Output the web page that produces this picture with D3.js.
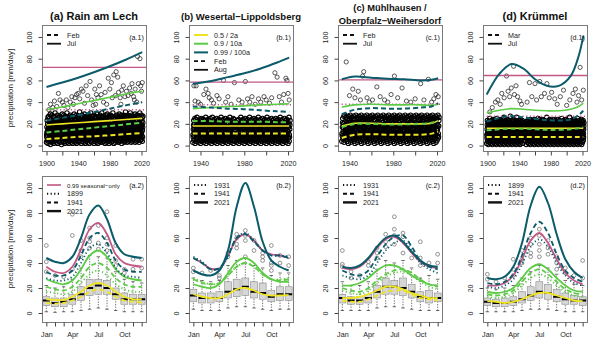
<!DOCTYPE html>
<html>
<head>
<meta charset="utf-8">
<script src="https://cdn.jsdelivr.net/npm/d3@7"></script>
<style>
body { margin: 0; background: #fff; }
svg { font-family: "Liberation Sans", Arial, Helvetica, sans-serif; }
</style>
</head>
<body>
<svg width="600" height="340"></svg>
<script>
// ---------- axis labels ----------
var monthLabels = ["Jan", "Apr", "Jul", "Oct"];
var months = ["Jan","Feb","Mar","Apr","May","Jun","Jul","Aug","Sep","Oct","Nov","Dec"];
var yTicks = [0, 20, 40, 60, 80, 100];
var yearTicksLong = [1900, 1920, 1940, 1960, 1980, 2000, 2020];
var yearTicksShort = [1940, 1960, 1980, 2000, 2020];
var yearLabels = [1900, 1940, 1980, 2020];

// ---------- top row: scatter of monthly maxima (one group of 6 per year, base-36 mm/day) ----------
var cloudA = "3a8hcn 5d9kfq 2bgeir 4c7jmp 6ahdlt 1e9gko 7bcfis 3d8ljn 5agemr 2c9hkq " +
  "4bdfju 6a8iln 3e7gkp 5ch9ms 2dbfjo 7a9hlq 4ecgkr 3b8ijn 6dafmp 1c9hkt " +
  "5bgdlo 3a8jns 7dcfkq 2e9hir 4bagmp 6c8jlu 3dbfko 5a9hnq 2ecgjr 4b8ims " +
  "6adflp 3c9hko 5e8gnr 2bdjlq 7a9fmt 4cegkp 3b8hio 5dagns 2c9jlq 6ebfkr " +
  "4a8hmp 3dcgjv 5b9ilo 7e8fkq 2cahns 4bdgjr 6a9flp 3ecimt 5b8hko 2dagnq " +
  "4c9jlr 6bdfmp 3a8hks 5ecgio 2b9jnq 7dafku 4c8hlp 3bgemr 5a9jko 6edfns " +
  "2c8hlq 4bagjr 7d9imp 3e8fkt 5cbhno 2adgjq 6b9flr 4c8ims 3eahkp 5d9gnu " +
  "7b8jlq 3cdfmr 4a9hko 6ecgip 2b8jns 5dafkq 3c9hlt 6bdgmo 4e8ijr 2a9fkp " +
  "5cbhns 7d8gjq 3a9ilr 4ecfmu 6b8hkp 2dagjo 5c9flq 3e8imr 7bahks 4d9gnp " +
  "6c8jlq 3bdhmt 5a9fkr 4ecgio 7b8jns 2dahkq 6c9flr 5e8ims 3bdgkp 4a9hnv " +
  "6c8jlr 5dbfmq 3e9hks 7a8gio 4cdjnr 6b9fku 5e8hlq 3cagms 7d9ijp 4b8hnr " +
  "6eafkq 5c9glt 3b8imr 7dcfjo 4a9hns 6e8gkq 5bdjlr 3c9fmu 7a8hkp 5dbgis " +
  "6c9jnq 4e8hlr";
var cloudB = "3a8fjn 5c9gkp 2bdhio 4a7flq 6c9gjm 3b8ekn 5d9hlo 2a7gjp 4cafkm 6b8hio " +
  "3d9fjn 5a7gkq 2c8hlm 4b9ejo 6d7fkn 3a8gip 5c9hjm 2b7fkq 4d8gln 6a9ejo " +
  "3c7hkm 5b8fjp 2d9gin 4a7hko 6c8fjm 3b9glq 5d7ejn 2a8hko 4c9fjm 6b7gip " +
  "3d8hkn 5a9fjo 2c7gln 4b8eiq 6d9hjm 3a7fkn 5c8gjp 2b9hlo 4d7fkm ------ " +
  "3a8gjn 5c9hko 2b7fim 4d8gjq 6a9ekn 3c7hlo 5b8fjm 2d9gkp 4a7hin 6c8fjo " +
  "3b9glm 5d7ejq 2a8hkn 4c9fjo 6b7gim 3d8hkp 5a9fjn 2c7glo 4b8ejm 6d9hkq " +
  "3a7fjn 5c8gko 2b9him 4d7fjp 6a8gkn 3c9elo 5b7hjm 2d8fkq 4a9gin 6c7hjo " +
  "3b8fkm 5d9gjp 2a7hln 4c8ejo 6b9fkm 3d7gip 5a8hjn 2c9fko 4b7glm 6d8ejq " +
  "3a9hkn 5c7fjo 2b8gim 4d9hjp 6a7fkn 3c8glo 5b9ejm 2d7hkq 4a8fjn";
var cloudC = "4b9hlp 6d8gkr 3a9ims 5cbfjq 7e8hlo 4bagkr 2d9jnp 6c8fms 3eahkq 5b9gio " +
  "7d8jlr 4cbhnp 2a9fks 6e8gjq 3bdilo 5c9hmr 7a8gkp 4dbfjs 2e9hnq 6c8ilo " +
  "3bagkr 5d9hmp 7e8fjs 4cbgnq 2a9ilo 6d8hkr 3ecfmp 5b9jls 7a8gkq 4dbhio " +
  "2c9fnr 6e8gjp 3bahms 5d9ilq 7c8fko 4ebgjr 2a9hnp 6d8fls 3cbgiq 5e9hko " +
  "7b8jmr 4dafkp 2c9gns 6e8hlq 3bdijo 5a9fmr 7c8gkp 4ebhjs 2d9inq 6a8flo " +
  "3cbgkr 5e9hmp 7b8jls 4dafnq 2c9gio 6e8hkr 3bdfmp 5a9ijs 7c8hlq 4ebgko " +
  "2d9fnr 6a8hjp 3cbgms 5e9ilq 7b8fko 4dahjr 2c9gnp 6e8ils 3bdhkq 5a9fmo " +
  "7c8gjr 4ebhnp 2d9iks 6a8flq 3cbhmo 5e9gjr 7b8ikp 4dafns 2c9hlq 6e8gjo " +
  "3bdimr 5a9fkp 7c8hns 4ebgjq 2d9ilo 6a8hmr 3cbfkp 5e9gjs 7b8inq";
var cloudD = "2a7fjn 4b8dhl 1c6gim 3a9ekp 5b7fhl 2d8gjn 4a6ehm 1c9fko 3b7dgl 5a8hjn " +
  "2c6fim 4b9egl 1a7dhp 3c8fjm 5b6gkn 2a9ehl 4d7fio 1b8gjm 3a6dhn 5c9fkl " +
  "2b7egm 4a8hjq 1d6fil 3b9gkn 5a7dhm 2c8fjo 4b6egl 1a9hkn 3d7fim 5b8gjr " +
  "2a6dhl 4c9fkn 1b7gim 3a8ejo 5d6fhl 2b9gkm 4a7dhn 1c8fjq 3b6gil 5a9ekm " +
  "2d7fhn 4b8gjl 1a6dio 3c9fkm 5b7ehn 2a8gjl ------ ------ ------ 4c7fhm " +
  "1b8dgk 3a6fjn 5c9eim 2b7ghl 4a8dko 1d6fjm 3b9ghn 5a7eil 2c8fkm 4b6gjo " +
  "1a9dhl 3c7fkn 5b8gim 2a6ejl 4d9fhp 1b7gkm 3a8dio 5c6fjl 2b9ghn 4a7ekm " +
  "1c8fjo 3b6dhl 5a9gkn 2d7fim 4b8ejl 1a6ghq 3c9dkm 5b7fin 2a8gjl 4d6eho " +
  "1b9fkm 3a7gjn 5c8dil 2b6fhm 4a9gko 1d7ejl 3b8fin 5a6ghm 2c9dkl 4b7fjo " +
  "1a8gim 3d6ehn 5b9fkl 2a7gjm 4c8dip 1b6fhl 3a9gkn 5d7ejm 2b8fil 4a6gko " +
  "1c9dhm 3b7fjn 5a8gkl 2d6eim 4b9fhq 1a7gjl 3c8dkn 5b6fim 2a9ghl 4d7ejo " +
  "1b8fkm 3a6gin 5c9dhl 2b7fjm 4a8gkp 1d6ehl 3b9fin 5a7gjm 2c8dkl 4b6fho " +
  "1a9gjm 3c7ekn 5b8fil";

// the points standing out above the cloud [year, mm/day]
var outA = [[1903,33],[1905,38],[1908,35],[1910,41],[1913,36],[1915,48],[1917,42],[1920,40],[1922,37],[1925,42],
  [1927,35],[1930,40],[1932,45],[1934,38],[1936,44],[1938,47],[1940,48],[1942,43],[1944,52],[1946,50],[1948,39],
  [1950,55],[1952,46],[1955,59],[1957,42],[1959,37],[1961,52],[1963,47],[1965,44],[1967,55],[1969,47],[1972,40],
  [1974,49],[1976,38],[1978,62],[1980,52],[1982,58],[1983,44],[1985,65],[1987,46],[1988,68],[1990,63],[1991,49],
  [1993,44],[1995,51],[1997,55],[1999,45],[2001,50],[2003,46],[2005,53],[2007,48],[2008,57],[2010,45],[2012,52],
  [2014,40],[2015,82],[2016,57],[2018,80],[2019,55],[2020,50],[2021,58],[1962,38],[1994,38],[2011,42]];
var outB = [[1934,55],[1936,55],[1935,41],[1938,40],[1940,38],[1943,47],[1945,52],[1947,48],[1948,44],[1950,42],
  [1952,39],[1955,46],[1957,43],[1961,60],[1963,40],[1965,45],[1968,38],[1971,58],[1975,42],[1978,40],[1981,59],
  [1983,43],[1985,40],[1987,45],[1990,38],[1993,43],[1995,40],[1998,45],[2000,42],[2003,39],[2005,44],[2008,67],
  [2010,63],[2012,45],[2014,40],[2016,47],[2018,62],[2019,60],[2020,48],[2021,42]];
var outC = [[1937,77],[1940,46],[1943,52],[1945,44],[1948,50],[1950,42],[1952,64],[1953,68],[1956,44],[1958,40],
  [1961,42],[1965,54],[1968,45],[1972,42],[1975,40],[1978,47],[1981,64],[1984,44],[1988,53],[1992,41],[1996,40],
  [2000,43],[2005,57],[2008,42],[2012,61],[2015,40],[2017,43],[2019,47],[2021,45]];
var outD = [[1903,31],[1906,35],[1910,40],[1913,42],[1916,38],[1918,48],[1921,44],[1924,64],[1926,50],[1928,45],
  [1930,53],[1933,73],[1934,47],[1936,55],[1938,45],[1941,41],[1943,38],[1950,40],[1953,58],[1956,45],[1960,57],
  [1962,42],[1966,59],[1968,45],[1972,48],[1975,57],[1978,44],[1981,49],[1985,43],[1988,38],[1992,45],[1996,51],
  [2000,37],[2004,42],[2008,48],[2011,52],[2013,40],[2015,46],[2017,72],[2019,42],[2021,51]];

// ---------- top row: quantile trends [mm/day] at knot years ----------
var yrsA = [1900, 1920, 1940, 1960, 1980, 2000, 2021];
var aJul99 = [54, 58, 62.5, 67.5, 73, 79, 86];
var aJul90 = [33, 35.5, 38.5, 41.5, 44.5, 47.5, 50];
var aJul50 = [19, 20, 21, 22, 23, 24, 25];
var aFeb99 = [23, 25.5, 28, 31, 34, 37, 40];
var aFeb90 = [12, 13.5, 15, 16.5, 18, 19.5, 21];
var aFeb50 = [6, 7, 8, 8.5, 9.5, 10.5, 11.5];
var aSeas = [72, 33];

var yrsB = [1933, 1950, 1965, 1980, 1995, 2010, 2021];
var bAug99 = [57, 59.5, 63, 66.5, 71, 76.5, 81];
var bAug90 = [34, 35, 36, 36.5, 37.5, 38, 38.5];
var bAug50 = [18, 18, 18, 18, 18, 18, 18];
var bFeb99 = [36, 35, 34, 33.5, 32.5, 31.5, 31];
var bFeb90 = [22.5, 22.5, 22, 22, 22, 21.5, 21.5];
var bFeb50 = [11, 11, 11, 11, 11, 11, 11];
var bSeas = [58.5, 37.5];

var yrsC = [1933, 1945, 1960, 1975, 1990, 2005, 2015, 2021];
var cJul99 = [61, 63.5, 62.5, 61.5, 61, 60, 60.5, 62];
var cJul90 = [35.5, 37.5, 38, 37.5, 37.5, 37.5, 37, 38];
var cJul50 = [18, 20.5, 20.5, 20, 20, 20, 20.5, 23];
var cFeb99 = [29, 33, 34.5, 34, 34, 35, 36, 39];
var cFeb90 = [17, 20, 20, 19.5, 19.5, 20, 21, 23];
var cFeb50 = [7, 10, 10.5, 10, 10, 10, 11, 13];
var cSeas = [60.5, 38];

var yrsD = [1899, 1915, 1930, 1945, 1960, 1975, 1990, 2005, 2015, 2021];
var dJul99 = [47, 66, 75, 71, 61, 55, 55, 64, 82, 101];
var dJul90 = [30, 32.5, 34, 33.5, 32.5, 32, 32, 33.5, 36, 39];
var dJul50 = [16, 16, 16, 16, 16, 16, 16, 16, 16, 16];
var dMar99 = [22, 25.5, 27, 26, 24.5, 23.5, 23, 24, 28, 32];
var dMar90 = [14, 15, 15.5, 15.5, 15, 14.5, 14.5, 15, 16, 17];
var dMar50 = [8, 8, 8, 8, 8, 8, 8, 8, 8, 8];
var dSeas = [64.5, 27];

// ---------- bottom row: monthly boxplots [lo, q1, median, q3, hi] ----------
var boxA = [[1,6,10,13,22],[0.5,5,8,12,20],[1,5,9,12,21],[1,7,11,15,27],[2,10,15,21,36],[3,14,20,27,46],
  [4,15,22,27,45],[3,15,20,26,44],[2,11,15,20,33],[1,7,11,16,27],[1,7,11,15,25],[1,7,11,15,24]];
var boxB = [[3,9,14,19,28],[2,8,12,16,26],[2,8,12,16,25],[2,9,12,17,26],[4,12,17,25,38],[5,13,19,27,42],
  [5,14,21,28,44],[4,12,17,25,38],[3,11,16,24,36],[2,9,13,18,30],[3,10,15,21,32],[3,10,15,21,32]];
var boxC = [[2,8,12,15,25],[2,7,10,13,22],[2,7,10,13,22],[2,8,12,15,25],[4,12,17,22,35],[5,15,21,28,42],
  [5,15,21,26,40],[4,14,20,28,42],[3,12,17,23,36],[2,9,13,17,28],[2,8,12,18,30],[2,9,12,16,27]];
var boxD = [[1,6,9,12,20],[1,5,8,11,19],[1,5,8,12,20],[1,6,9,13,22],[2,8,11,17,28],[3,10,14,21,33],
  [3,12,17,25,38],[3,11,16,23,36],[2,9,13,19,31],[1,7,11,16,26],[1,7,10,14,23],[1,6,10,13,22]];

var boxOutA = [[1,54],[1,41],[1,33],[2,30],[3,29],[4,79],[4,62],[4,35],[5,58],[5,50],[5,45],[6,68],[6,60],[6,57],
  [6,52],[7,70],[7,56],[7,51],[8,81],[8,60],[8,55],[8,50],[9,54],[9,42],[9,38],[10,35],[10,32],[11,43],[11,35],[12,43],[12,36]];
var boxOutB = [[1,36],[1,33],[2,32],[3,34],[4,30],[4,28],[5,48],[5,45],[6,63],[6,60],[6,55],[6,52],[7,66],[7,62],
  [7,58],[7,45],[8,58],[8,50],[9,48],[9,45],[9,42],[10,54],[10,40],[10,38],[10,34],[11,46],[11,40],[12,45],[12,38]];
var boxOutC = [[1,50],[1,39],[1,37],[2,33],[2,28],[3,30],[4,38],[4,41],[5,52],[5,48],[5,44],[6,63],[6,57],[6,53],
  [7,77],[7,67],[7,62],[7,55],[8,64],[8,61],[8,48],[9,44],[10,57],[10,44],[10,38],[11,40],[12,47],[12,40]];
var boxOutD = [[1,31],[1,27],[2,25],[3,28],[4,43],[4,35],[4,30],[5,43],[5,50],[5,40],[6,60],[6,55],[6,48],[6,45],
  [7,67],[7,62],[7,55],[7,50],[7,45],[8,58],[8,52],[8,47],[9,45],[9,40],[9,35],[10,36],[10,32],[11,30],[12,42],[12,28]];

// ---------- bottom row: seasonal quantile curves Jan..Dec ----------
var a2Seas = [37, 33, 32, 37, 51, 67, 72, 63, 47, 40, 38, 37];
var a2q99late = [44, 41, 40, 45, 60, 79, 86, 75, 56, 47, 45, 44];
var a2q99mid = [33, 30, 30, 34, 46, 60, 64, 56, 42, 35, 33, 33];
var a2q99early = [28, 26, 26, 29, 40, 52, 55, 48, 36, 30, 29, 28];
var a2q90late = [27, 24.5, 23, 26, 35, 46, 50, 45, 35, 29, 27, 26];
var a2q90mid = [21, 19, 18, 21, 28, 37, 40, 36, 28, 23, 21, 21];
var a2q90early = [17, 16, 15, 17, 24, 31, 34, 30, 23, 19, 17, 17];
var a2q50late = [11, 10.5, 10.5, 13, 17, 22, 24, 22, 17, 13, 11, 11];
var a2q50mid = [8, 7.5, 8, 10, 13, 17, 19, 17, 13, 10, 9, 8.5];

var b2Seas = [44, 40, 35.5, 35.5, 46, 59, 63, 58, 50, 47, 46, 44];
var b2q99late = [34, 31, 30, 34, 50, 85, 104, 85, 57, 42, 37, 34];
var b2q99mid = [44, 40, 35, 36, 46, 60, 63, 57, 50, 46, 46, 44];
var b2q99early = [45, 41, 35, 35, 45, 60, 64, 58, 50, 46, 46, 45];
var b2q90late = [23, 21, 20, 23, 32, 41, 44, 40, 32, 27, 25, 25];
var b2q90mid = [27, 24, 23, 24, 30, 37, 40, 37, 31, 27, 26, 27];
var b2q90early = [28, 25, 23, 24, 30, 37, 40, 37, 31, 27, 27, 28];
var b2q50late = [15, 13, 12, 12, 15, 19, 20, 18, 15, 14, 14, 14.5];

var c2Seas = [36, 35, 37, 43, 52, 59, 61, 56, 48, 41, 37, 36];
var c2q99late = [37, 36, 38, 44, 53, 60, 62, 57, 49, 42, 38, 37];
var c2q99mid = [34, 31, 30, 34, 45, 55, 61, 62, 53, 42, 37, 35];
var c2q99early = [30, 28, 27, 30, 40, 50, 56, 58, 50, 40, 35, 32];
var c2q90late = [22, 22, 24, 28, 34, 38, 38, 35, 30, 26, 23, 22];
var c2q90mid = [20, 18, 17, 20, 26, 31, 34, 35, 32, 27, 23, 21];
var c2q90early = [18, 16, 15, 18, 24, 29, 32, 33, 30, 25, 21, 19];
var c2q50late = [12, 12, 13, 15, 18, 21, 21, 19, 16, 14, 12, 12];
var c2q50mid = [10, 9, 9, 11, 14, 17, 18, 18, 15, 12, 11, 10];

var d2Seas = [22, 22, 24, 30, 43, 58, 64, 56, 43, 32, 26, 23];
var d2q99late = [28, 27, 29, 37, 56, 86, 101, 88, 63, 43, 33, 28];
var d2q99mid = [24, 23, 25, 31, 46, 64, 73, 64, 47, 34, 28, 25];
var d2q99early = [21, 20, 22, 27, 39, 53, 59, 53, 40, 30, 24, 22];
var d2q90late = [17, 16, 17, 20, 28, 36, 39, 35, 28, 22, 18, 17];
var d2q90mid = [15, 14, 15, 18, 25, 32, 35, 31, 25, 19, 16, 15];
var d2q90early = [13, 12, 13, 16, 22, 28, 31, 28, 22, 17, 14, 13];
var d2q50late = [9.5, 9, 8, 9, 11, 14, 16, 16, 14, 12, 10, 9.5];

// ---------- styling ----------
var col50 = "#efe424", col90 = "#5ccb45", col99 = "#0b5b6b", colSeas = "#c25783";
var DASH = "5,3", DOT = "1.2,2.4";
var W = 104;
var panelX = [42, 189, 338, 483];
var topRange = [151, 25], topDom = [-5, 111];
var botRange = [322, 176], botDom = [-7.2, 109.6];

var svg = d3.select("svg");
var curve = d3.curveCatmullRom.alpha(0.5);

function frame(x0, r) {
  svg.append("rect").attr("x", x0 + 0.5).attr("y", r[1] + 0.5)
    .attr("width", W).attr("height", r[0] - r[1])
    .attr("fill", "none").attr("stroke", "#7a7a7a").attr("stroke-width", 1);
}

function yAxis(y, x0) {
  var ax = svg.append("g").attr("transform", "translate(" + (x0 + 0.5) + ",0)")
    .call(d3.axisLeft(y).tickValues(yTicks).tickSize(4).tickSizeOuter(0));
  ax.attr("font-family", null).attr("font-size", null);
  ax.select(".domain").remove();
  ax.selectAll("line").attr("stroke", "#444");
  ax.selectAll("text").attr("transform", "rotate(-90)").attr("x", 0).attr("y", -10.5).attr("dy", 0)
    .attr("text-anchor", "middle").attr("font-size", 7.2).attr("fill", "#222");
}

function xAxis(x, yb, ticks, fmt) {
  var ax = svg.append("g").attr("transform", "translate(0," + (yb + 0.5) + ")")
    .call(d3.axisBottom(x).tickValues(ticks).tickSize(4).tickSizeOuter(0).tickPadding(5).tickFormat(fmt));
  ax.attr("font-family", null).attr("font-size", null);
  ax.select(".domain").remove();
  ax.selectAll("line").attr("stroke", "#444");
  ax.selectAll("text").attr("font-size", 7.2).attr("fill", "#222");
}

function legend(x0, y0, items) {
  items.forEach(function(it, i) {
    var yy = y0 + i * 8.7;
    svg.append("line").attr("x1", x0 + 5).attr("x2", x0 + 19).attr("y1", yy).attr("y2", yy)
      .attr("stroke", it[1]).attr("stroke-width", it[3]).attr("stroke-dasharray", it[2]);
    svg.append("text").attr("x", x0 + 25).attr("y", yy + 2.6).attr("font-size", it[4] || 7.2)
      .attr("fill", "#222").text(it[0]);
  });
}

function cornerLabel(x0, yy, txt) {
  svg.append("text").attr("x", x0 + W - 2).attr("y", yy).attr("text-anchor", "end")
    .attr("font-size", 7.2).attr("fill", "#222").text(txt);
}

// ---------- top panels ----------
function drawTop(k, p) {
  var x0 = panelX[k];
  var x = d3.scaleLinear().domain(p.xdom).range([x0, x0 + W]);
  var y = d3.scaleLinear().domain(topDom).range(topRange);

  var pts = [];
  p.cloud.split(" ").forEach(function(grp, i) {
    grp.split("").forEach(function(ch, j) {
      if (ch !== "-") pts.push([p.start + i + j / 6, parseInt(ch, 36)]);
    });
  });
  svg.append("g").selectAll("circle").data(pts).enter().append("circle")
    .attr("cx", function(d) { return x(d[0]); })
    .attr("cy", function(d) { return y(d[1]); })
    .attr("r", 2.2).attr("fill", "none").attr("stroke", "#000").attr("stroke-width", 1.05);
  svg.append("g").selectAll("circle").data(p.outl).enter().append("circle")
    .attr("cx", function(d) { return x(d[0]); })
    .attr("cy", function(d) { return y(d[1]); })
    .attr("r", 2.1).attr("fill", "none").attr("stroke", "#222").attr("stroke-width", 0.75);

  // seasonal-only 0.99 levels
  svg.append("line").attr("x1", x0).attr("x2", x0 + W).attr("y1", y(p.seas[0])).attr("y2", y(p.seas[0]))
    .attr("stroke", colSeas).attr("stroke-width", 1.3);
  svg.append("line").attr("x1", x0).attr("x2", x0 + W).attr("y1", y(p.seas[1])).attr("y2", y(p.seas[1]))
    .attr("stroke", colSeas).attr("stroke-width", 1.5).attr("stroke-dasharray", DOT);

  var line = d3.line().curve(curve)
    .x(function(d, i) { return x(p.yrs[i]); })
    .y(function(d) { return y(d); });
  p.lines.forEach(function(l) {
    svg.append("path").attr("d", line(l[0])).attr("fill", "none")
      .attr("stroke", l[1]).attr("stroke-width", l[2] ? 2 : (l[1] === col99 ? 2 : 1.6))
      .attr("stroke-dasharray", l[2] ? DASH : null);
  });

  frame(x0, topRange);
  yAxis(y, x0);
  xAxis(x, topRange[0], p.ticks, function(d) { return yearLabels.indexOf(d) >= 0 ? d : ""; });
  legend(x0, 35, p.leg);
  cornerLabel(x0, 40, p.label);

  var t = svg.append("text").attr("text-anchor", "middle").attr("font-weight", "bold")
    .attr("font-size", p.tsize).attr("fill", "#111");
  p.title.forEach(function(s, i) {
    t.append("tspan").attr("x", x0 + W / 2).attr("y", p.ty + i * 12.6).text(s);
  });
}

// ---------- bottom panels ----------
function drawBottom(k, p) {
  var x0 = panelX[k];
  var x = d3.scaleLinear().domain([0.5, 12.5]).range([x0, x0 + W]);
  var y = d3.scaleLinear().domain(botDom).range(botRange);
  var bw = x(1.4) - x(1);

  var g = svg.append("g");
  p.box.forEach(function(b, i) {
    var cx = x(i + 1);
    g.append("line").attr("x1", cx).attr("x2", cx).attr("y1", y(b[0])).attr("y2", y(b[4]))
      .attr("stroke", "#333").attr("stroke-width", 0.7).attr("stroke-dasharray", "1.3,1.3");
    [b[0], b[4]].forEach(function(v) {
      g.append("line").attr("x1", cx - bw / 2).attr("x2", cx + bw / 2).attr("y1", y(v)).attr("y2", y(v))
        .attr("stroke", "#333").attr("stroke-width", 0.7);
    });
    g.append("rect").attr("x", cx - bw).attr("y", y(b[3])).attr("width", 2 * bw)
      .attr("height", y(b[1]) - y(b[3])).attr("fill", "#d6d6d6").attr("stroke", "#8a8a8a").attr("stroke-width", 0.6);
    g.append("line").attr("x1", cx - bw).attr("x2", cx + bw).attr("y1", y(b[2])).attr("y2", y(b[2]))
      .attr("stroke", "#000").attr("stroke-width", 2);
  });
  g.selectAll("circle").data(p.outl).enter().append("circle")
    .attr("cx", function(d) { return x(d[0]); })
    .attr("cy", function(d) { return y(d[1]); })
    .attr("r", 1.9).attr("fill", "none").attr("stroke", "#777").attr("stroke-width", 0.8);

  var line = d3.line().curve(curve)
    .x(function(d, i) { return x(i + 1); })
    .y(function(d) { return y(d); });
  p.curves.forEach(function(c) {
    svg.append("path").attr("d", line(c[0])).attr("fill", "none")
      .attr("stroke", c[1]).attr("stroke-width", c[3]).attr("stroke-dasharray", c[2]);
  });

  frame(x0, botRange);
  yAxis(y, x0);
  xAxis(x, botRange[0], d3.range(1, 13), function(d) {
    var m = months[d - 1];
    return monthLabels.indexOf(m) >= 0 ? m : "";
  });
  legend(x0, 185, p.leg);
  cornerLabel(x0, 188, p.label);
}

function seasonalCurves(seas, q99, q90, q50) {
  var out = [];
  if (q50[1]) out.push([q50[1], col50, DASH, 1.8]);
  out.push([q50[0], col50, null, 1.8]);
  out.push([q90[2], col90, DOT, 1.8], [q90[1], col90, DASH, 1.8], [q90[0], col90, null, 1.8]);
  out.push([seas, colSeas, null, 1.8]);
  out.push([q99[2], col99, DOT, 1.8], [q99[1], col99, DASH, 1.8], [q99[0], col99, null, 2]);
  return out;
}

var legTop = function(a, b) { return [[a, "#111", "4,3", 1.8], [b, "#111", null, 1.8]]; };

drawTop(0, { xdom: [1894.3, 2025.7], start: 1900, cloud: cloudA, outl: outA, yrs: yrsA, seas: aSeas,
  lines: [[aFeb50, col50, 1], [aJul50, col50, 0], [aFeb90, col90, 1], [aJul90, col90, 0], [aFeb99, col99, 1], [aJul99, col99, 0]],
  ticks: yearTicksLong, leg: legTop("Feb", "Jul"), label: "(a.1)", title: ["(a) Rain am Lech"], tsize: 11, ty: 19.5 });
drawTop(1, { xdom: [1929.5, 2024.5], start: 1933, cloud: cloudB, outl: outB, yrs: yrsB, seas: bSeas,
  lines: [[bFeb50, col50, 1], [bAug50, col50, 0], [bFeb90, col90, 1], [bAug90, col90, 0], [bFeb99, col99, 1], [bAug99, col99, 0]],
  ticks: yearTicksShort, label: "(b.1)", title: ["(b) Wesertal\u2212Lippoldsberg"], tsize: 9.5, ty: 20,
  leg: [["0.5 / 2a", col50, null, 2], ["0.9 / 10a", col90, null, 2], ["0.99 / 100a", col99, null, 2]].concat(legTop("Feb", "Aug")) });
drawTop(2, { xdom: [1929.5, 2024.5], start: 1933, cloud: cloudC, outl: outC, yrs: yrsC, seas: cSeas,
  lines: [[cFeb50, col50, 1], [cJul50, col50, 0], [cFeb90, col90, 1], [cJul90, col90, 0], [cFeb99, col99, 1], [cJul99, col99, 0]],
  ticks: yearTicksShort, leg: legTop("Feb", "Jul"), label: "(c.1)",
  title: ["(c) M\u00fchlhausen /", "Oberpfalz\u2212Weihersdorf"], tsize: 9.3, ty: 11 });
drawTop(3, { xdom: [1894.3, 2025.7], start: 1899, cloud: cloudD, outl: outD, yrs: yrsD, seas: dSeas,
  lines: [[dMar50, col50, 1], [dJul50, col50, 0], [dMar90, col90, 1], [dJul90, col90, 0], [dMar99, col99, 1], [dJul99, col99, 0]],
  ticks: yearTicksLong, leg: legTop("Mar", "Jul"), label: "(d.1)", title: ["(d) Kr\u00fcmmel"], tsize: 11, ty: 19.5 });

var legBot = function(a) {
  return [[a, "#111", DOT, 2], ["1941", "#111", "4,3", 2], ["2021", "#111", null, 2.4]];
};
drawBottom(0, { box: boxA, outl: boxOutA, label: "(a.2)",
  curves: seasonalCurves(a2Seas, [a2q99late, a2q99mid, a2q99early], [a2q90late, a2q90mid, a2q90early], [a2q50late, a2q50mid]),
  leg: [["0.99 seasonal\u2212only", colSeas, null, 1.6, 6.1]].concat(legBot("1899")) });
drawBottom(1, { box: boxB, outl: boxOutB, label: "(b.2)",
  curves: seasonalCurves(b2Seas, [b2q99late, b2q99mid, b2q99early], [b2q90late, b2q90mid, b2q90early], [b2q50late]),
  leg: legBot("1931") });
drawBottom(2, { box: boxC, outl: boxOutC, label: "(c.2)",
  curves: seasonalCurves(c2Seas, [c2q99late, c2q99mid, c2q99early], [c2q90late, c2q90mid, c2q90early], [c2q50late, c2q50mid]),
  leg: legBot("1931") });
drawBottom(3, { box: boxD, outl: boxOutD, label: "(d.2)",
  curves: seasonalCurves(d2Seas, [d2q99late, d2q99mid, d2q99early], [d2q90late, d2q90mid, d2q90early], [d2q50late]),
  leg: legBot("1899") });

// y-axis titles
[[88], [249]].forEach(function(c) {
  svg.append("text").attr("transform", "translate(13," + c[0] + ") rotate(-90)")
    .attr("text-anchor", "middle").attr("font-size", 8).attr("fill", "#222")
    .text("precipitation [mm/day]");
});
</script>
</body>
</html>
